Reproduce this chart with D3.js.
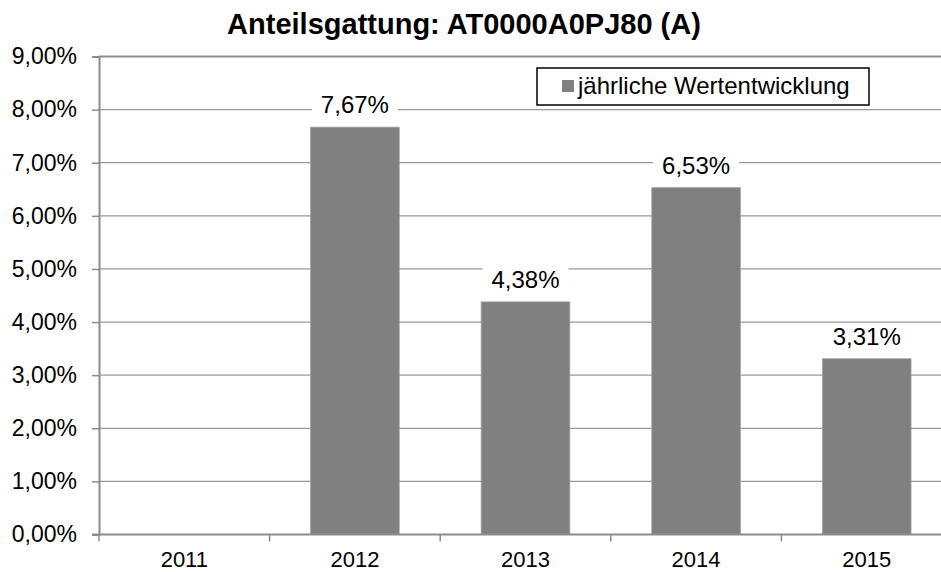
<!DOCTYPE html>
<html>
  <head>
    <meta charset="utf-8" />
    <style>
      body { margin: 0; background: #fff; }
      svg { display: block; font-family: 'Liberation Sans', Arial, sans-serif; }
    </style>
  </head>
  <body>

<svg id="graph"></svg>

<script src="https://d3js.org/d3.v7.min.js"></script>
<script>
// the data
const YEARS = ['2011', '2012', '2013', '2014', '2015']
const VALUES = [null, 7.67, 4.38, 6.53, 3.31]
const Y_TICKS = [0, 1, 2, 3, 4, 5, 6, 7, 8, 9]
const TITLE = 'Anteilsgattung: AT0000A0PJ80 (A)'
const SERIES = 'jährliche Wertentwicklung'

const WIDTH = 941
const HEIGHT = 572
// the plot area runs a little past the right edge of the picture
const LEFT = 99
const RIGHT = 952
const TOP = 56.5
const BOTTOM = 534.5
const BAR_COLOR = '#808080'
const GRID_COLOR = '#999'
const AXIS_COLOR = '#8c8c8c'
const FONT_SIZE = 23

const fmt = v => v.toFixed(2).replace('.', ',') + '%'

const svg = d3.select('#graph')
  .attr('width', WIDTH)
  .attr('height', HEIGHT)

const xScale = d3.scaleBand()
  .domain(YEARS)
  .range([LEFT, RIGHT])
  .paddingInner(0.48)
  .paddingOuter(0.24)

// band borders, for the x ticks
const step = (RIGHT - LEFT) / YEARS.length

const yScale = d3.scaleLinear()
  .domain([0, 9])
  .range([BOTTOM, TOP])

// gridlines
svg.append('g')
  .selectAll('line')
  .data(Y_TICKS.filter(d => d > 0))
  .join('line')
    .attr('x1', LEFT)
    .attr('x2', RIGHT)
    .attr('y1', d => yScale(d))
    .attr('y2', d => yScale(d))
    .attr('stroke', d => d === 9 ? AXIS_COLOR : GRID_COLOR)
    .attr('stroke-width', d => d === 9 ? 2 : 1.3)

// y axis
const axisY = d3.axisLeft(yScale)
  .tickValues(Y_TICKS)
  .tickSize(7)
  .tickPadding(15)
  .tickFormat(fmt)

const gy = svg.append('g')
  .attr('transform', `translate(${LEFT}, 0)`)
  .call(axisY)
gy.select('.domain').attr('stroke', AXIS_COLOR).attr('stroke-width', 2)
gy.selectAll('.tick line').attr('stroke', AXIS_COLOR).attr('stroke-width', 1.5)
gy.selectAll('.tick text')
  .attr('font-size', FONT_SIZE)
  .attr('font-family', "'Liberation Sans', Arial, sans-serif")
  .attr('fill', '#000')

// bars
svg.append('g')
  .selectAll('rect')
  .data(YEARS.map((y, i) => ({ year: y, value: VALUES[i] })).filter(d => d.value != null))
  .join('rect')
    .attr('x', d => xScale(d.year))
    .attr('width', xScale.bandwidth())
    .attr('y', d => yScale(d.value))
    .attr('height', d => BOTTOM - yScale(d.value))
    .attr('fill', BAR_COLOR)
    .attr('stroke', '#a6a6a6')
    .attr('stroke-width', 0.8)

// x axis
const gx = svg.append('g')
  .attr('transform', `translate(0, ${BOTTOM})`)
gx.append('line')
  .attr('x1', LEFT - 7)
  .attr('x2', RIGHT)
  .attr('stroke', AXIS_COLOR)
  .attr('stroke-width', 2)
gx.selectAll('line.tk')
  .data(d3.range(YEARS.length + 1))
  .join('line')
    .attr('class', 'tk')
    .attr('x1', i => LEFT + i * step)
    .attr('x2', i => LEFT + i * step)
    .attr('y1', 0)
    .attr('y2', 7)
    .attr('stroke', AXIS_COLOR)
    .attr('stroke-width', 1.5)
gx.selectAll('text')
  .data(YEARS)
  .join('text')
    .attr('x', d => xScale(d) + xScale.bandwidth() / 2)
    .attr('y', 32)
    .attr('text-anchor', 'middle')
    .attr('font-size', 22)
    .text(d => d)

// data labels with a white box behind them
const labels = svg.append('g')
  .selectAll('g')
  .data(YEARS.map((y, i) => ({ year: y, value: VALUES[i] })).filter(d => d.value != null))
  .join('g')
    .attr('transform', d => `translate(${xScale(d.year) + xScale.bandwidth() / 2}, ${yScale(d.value) - 14})`)
labels.append('rect')
  .attr('x', -43)
  .attr('y', -21)
  .attr('width', 86)
  .attr('height', 27)
  .attr('fill', '#fff')
labels.append('text')
  .attr('text-anchor', 'middle')
  .attr('font-size', 24)
  .text(d => fmt(d.value))

// legend
const legend = svg.append('g').attr('transform', 'translate(537, 68)')
legend.append('rect')
  .attr('width', 332)
  .attr('height', 37)
  .attr('fill', '#fff')
  .attr('stroke', '#000')
  .attr('stroke-width', 1.5)
legend.append('rect')
  .attr('x', 25)
  .attr('y', 12)
  .attr('width', 12)
  .attr('height', 12)
  .attr('fill', BAR_COLOR)
legend.append('text')
  .attr('x', 41)
  .attr('y', 26)
  .attr('font-size', 24)
  .text(SERIES)

// title
svg.append('text')
  .attr('x', 464)
  .attr('y', 34)
  .attr('text-anchor', 'middle')
  .attr('font-size', 29)
  .attr('font-weight', 'bold')
  .text(TITLE)
</script>
  </body>
</html>
